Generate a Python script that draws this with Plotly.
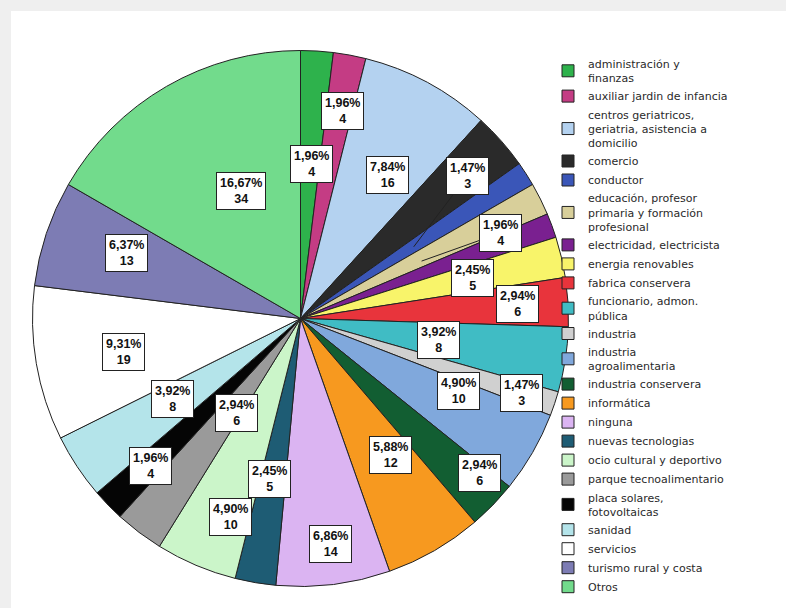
import math
import plotly.graph_objects as go

categories = [
    "administración y<br>finanzas",
    "auxiliar jardin de infancia",
    "centros geriatricos,<br>geriatria, asistencia a<br>domicilio",
    "comercio",
    "conductor",
    "educación, profesor<br>primaria y formación<br>profesional",
    "electricidad, electricista",
    "energia renovables",
    "fabrica conservera",
    "funcionario, admon.<br>pública",
    "industria",
    "industria<br>agroalimentaria",
    "industria conservera",
    "informática",
    "ninguna",
    "nuevas tecnologias",
    "ocio cultural y deportivo",
    "parque tecnoalimentario",
    "placa solares,<br>fotovoltaicas",
    "sanidad",
    "servicios",
    "turismo rural y costa",
    "Otros",
]
counts = [4, 4, 16, 7, 3, 4, 3, 5, 6, 8, 3, 10, 6, 12, 14, 5, 10, 6, 4, 8, 19, 13, 34]
colors = [
    "#2eb24c", "#c43c84", "#b4d2f0", "#2a2a2a", "#3a56b8", "#d8cf9a",
    "#7a2090", "#f8f46a", "#e8343c", "#40bcc4", "#d0d0d0", "#80a8dc",
    "#125e32", "#f7991f", "#dbb4f2", "#1e5c74", "#cbf5c9", "#9a9a9a",
    "#050505", "#b4e4ea", "#ffffff", "#7d7cb4", "#72db8c",
]
# label radius (fraction of pie radius); None = no label
label_r = [0.65, 0.86, 0.69, None, "callout", "callout", None, 0.66, 0.89, 0.52,
           0.87, 0.68, 0.93, 0.67, 0.92, 0.68, 0.88, 0.53, 0.89, 0.67, 0.75, 0.77, 0.63]
# callouts: (angle shift from mid, label radius, tip radius, tip angle shift)
callouts = {4: (-7.9, 0.82, 0.50, 0.3), 5: (3.3, 0.81, 0.50, 1.1)}

W, H = 786, 608
CX, CY, R = 300.5, 318.5, 268.0

total = sum(counts)

fig = go.Figure()
fig.add_trace(go.Pie(
    labels=categories,
    values=counts,
    sort=False,
    direction="clockwise",
    rotation=0,
    textinfo="none",
    hoverinfo="label+value+percent",
    marker=dict(colors=colors, line=dict(color="#222222", width=1)),
    domain=dict(x=[(CX - R) / W, (CX + R) / W],
                y=[(H - CY - R) / H, (H - CY + R) / H]),
))


def to_px(theta_deg, rfrac):
    t = math.radians(theta_deg)
    px = CX + rfrac * R * math.sin(t)
    py = CY - rfrac * R * math.cos(t)
    return px, py


annotations = []
cum = 0
for i, v in enumerate(counts):
    a0 = cum / total * 360
    cum += v
    a1 = cum / total * 360
    mid = (a0 + a1) / 2
    lr = label_r[i]
    if lr is None:
        continue
    pct = f"{v / total * 100:.2f}".replace(".", ",") + "%"
    txt = f"<b>{pct}<br>{v}</b>"
    common = dict(text=txt, font=dict(family="Liberation Sans, Arial", size=12.5, color="#111111"),
                  bgcolor="white", bordercolor="#222222", borderwidth=1, borderpad=3,
                  xref="paper", yref="paper")
    if lr == "callout":
        dang, rl, rt, tang = callouts[i]
        lx, ly = to_px(mid + dang, rl)
        tx, ty = to_px(mid + tang, rt)
        annotations.append(dict(x=tx / W, y=1 - ty / H, ax=lx - tx, ay=ly - ty,
                                showarrow=True, arrowhead=0, arrowwidth=1,
                                arrowcolor="#222222", standoff=0, **common))
    else:
        lx, ly = to_px(mid, lr)
        annotations.append(dict(x=lx / W, y=1 - ly / H, showarrow=False, **common))

fig.update_layout(
    width=W, height=H,
    margin=dict(l=0, r=0, t=0, b=0),
    paper_bgcolor="#efefef",
    showlegend=True,
    legend=dict(x=548 / W, y=1 - 50 / H, xanchor="left", yanchor="top",
                font=dict(family="DejaVu Sans, Liberation Sans", size=11, color="#2a2a2a"),
                bgcolor="rgba(0,0,0,0)", traceorder="normal", maxheight=1.0),
    annotations=annotations,
    shapes=[dict(type="rect", xref="paper", yref="paper", x0=11 / W, x1=1, y0=0, y1=1 - 11 / H,
                 fillcolor="white", line=dict(width=0), layer="below")],
)

fig.write_html("out.html", config={"displayModeBar": False},
               post_script="document.body.style.margin='0px';document.body.style.overflow='hidden';")
